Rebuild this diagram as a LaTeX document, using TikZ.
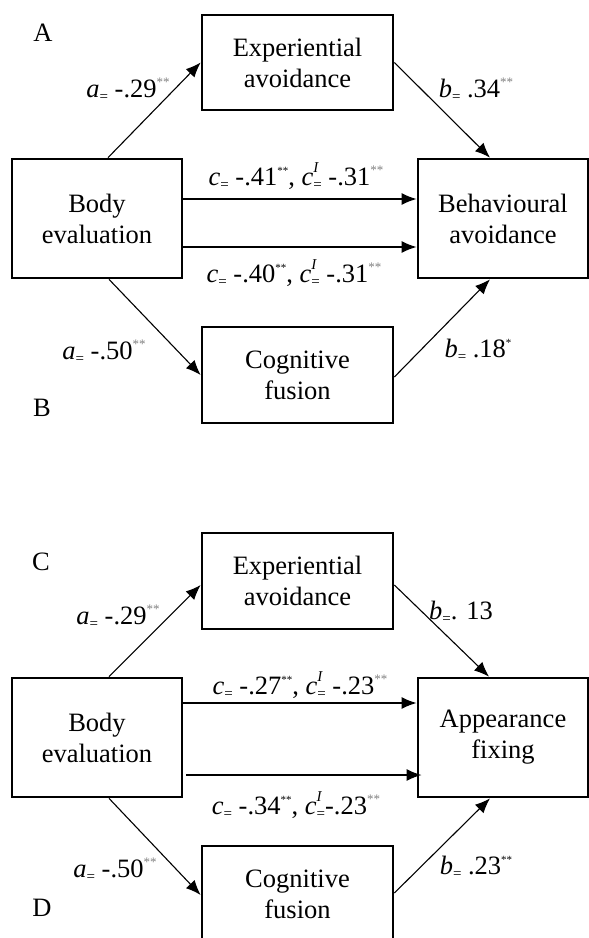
\documentclass[tikz,border=0pt]{standalone}
\usepackage{fontspec}
\setmainfont{Liberation Serif}
\usepackage{xcolor}
\usepackage{tikz}
\usetikzlibrary{arrows.meta}

\newcommand{\eqs}{\raisebox{-0.35ex}{\fontsize{15}{15}\selectfont =}}
\newcommand{\sg}[1]{\raisebox{0.85ex}{\fontsize{13}{13}\selectfont\color{gray}#1}}
\newcommand{\sd}[1]{\raisebox{0.85ex}{\fontsize{11}{11}\selectfont #1}}
\newcommand{\cI}{\textit{c}\rlap{\raisebox{1.05ex}{\fontsize{15}{15}\selectfont\textit{I}}}\eqs}

\begin{document}
\begin{tikzpicture}[>={Latex[length=15pt,width=12pt]}, x=1pt, y=-1pt,
  box/.style={draw, line width=2.7pt, align=center, inner sep=0pt,
    font=\fontsize{26.5}{31}\selectfont},
  lab/.style={inner sep=0pt, font=\fontsize{26.5}{31}\selectfont},
  freccia/.style={->, line width=1.1pt}]
  \useasboundingbox (0,0) rectangle (589,938);

  % Pannello A-B
  \node[box, minimum width=170pt, minimum height=119pt] (corpoA) at (97,218.5) {Body\\evaluation};
  \node[box, minimum width=191pt, minimum height=95pt] (espA) at (297.5,62.5) {Experiential\\avoidance};
  \node[box, minimum width=191pt, minimum height=96pt] (cogA) at (297.5,375) {Cognitive\\fusion};
  \node[box, minimum width=170pt, minimum height=119pt] (compA) at (503,218.5) {Behavioural\\avoidance};

  \draw[freccia] ([xshift=11pt]corpoA.north) -- (espA.west);
  \draw[freccia] (espA.east) -- ([xshift=-13pt]compA.north);
  \draw[freccia, line width=1.5pt] ([yshift=19.5pt]corpoA.east) -- ([yshift=19.5pt]compA.west);
  \draw[freccia, line width=1.5pt] ([yshift=-28.5pt]corpoA.east) -- ([yshift=-28.5pt]compA.west);
  \draw[freccia] ([xshift=12pt]corpoA.south) -- (cogA.west);
  \draw[freccia] ([yshift=-2pt]cogA.east) -- ([xshift=-13pt]compA.south);

  % Etichette A-B
  \node[lab] (letA) at (43,33) {A};
  \node[lab] (letB) at (42,408) {B};
  \node[lab] (aA) at (128,90) {\textit{a}\eqs{} -.29\sg{**}};
  \node[lab] (bA) at (476,90) {\textit{b}\eqs{} .34\sg{**}};
  \node[lab] (cA) at (296,176) {\textit{c}\eqs{} -.41\sd{**}, \cI{} -.31\sg{**}};
  \node[lab] (cB) at (294,273) {\textit{c}\eqs{} -.40\sd{**}, \cI{} -.31\sg{**}};
  \node[lab] (aB) at (104,352) {\textit{a}\eqs{} -.50\sg{**}};
  \node[lab] (bB) at (478,350) {\textit{b}\eqs{} .18\sd{*}};

  % Pannello C-D
  \node[box, minimum width=170pt, minimum height=119pt] (corpoC) at (97,737.5) {Body\\evaluation};
  \node[box, minimum width=191pt, minimum height=96pt] (espC) at (297.5,581) {Experiential\\avoidance};
  \node[box, minimum width=191pt, minimum height=96pt] (cogC) at (297.5,894) {Cognitive\\fusion};
  \node[box, minimum width=170pt, minimum height=119pt] (aspC) at (503,737.5) {Appearance\\fixing};

  \draw[freccia] ([xshift=12pt]corpoC.north) -- ([yshift=-4pt]espC.west);
  \draw[freccia] ([yshift=-4pt]espC.east) -- ([xshift=-14pt]aspC.north);
  \draw[freccia, line width=1.5pt] ([yshift=34.5pt]corpoC.east) -- ([yshift=34.5pt]aspC.west);
  \draw[freccia, line width=1.5pt] ([xshift=3pt,yshift=-37.5pt]corpoC.east) -- ([xshift=5pt,yshift=-37.5pt]aspC.west);
  \draw[freccia] ([xshift=12pt]corpoC.south) -- ([yshift=-1pt]cogC.west);
  \draw[freccia] ([yshift=1pt]cogC.east) -- ([xshift=-13pt]aspC.south);

  % Etichette C-D
  \node[lab] (letC) at (41,562) {C};
  \node[lab] (letD) at (42,908) {D};
  \node[lab] (aC) at (118,617) {\textit{a}\eqs{} -.29\sg{**}};
  \node[lab] (bC) at (461,612) {\textit{b}\eqs. 13};
  \node[lab] (cC) at (300,685) {\textit{c}\eqs{} -.27\sd{**}, \cI{} -.23\sg{**}};
  \node[lab] (cD) at (296,805) {\textit{c}\eqs{} -.34\sd{**}, \cI-.23\sg{**}};
  \node[lab] (aD) at (115,870) {\textit{a}\eqs{} -.50\sg{**}};
  \node[lab] (bD) at (476,867) {\textit{b}\eqs{} .23\sd{**}};
\end{tikzpicture}
\end{document}
